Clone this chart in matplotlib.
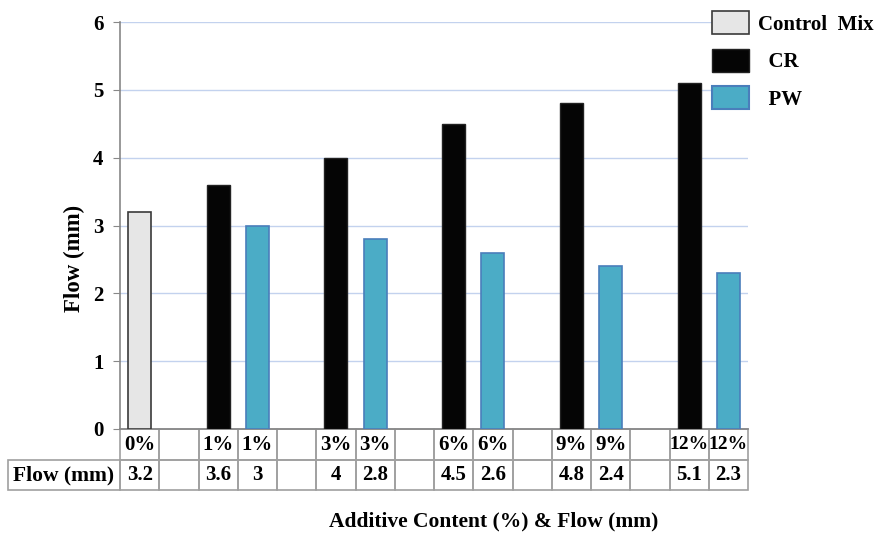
import matplotlib
matplotlib.use("Agg")
import matplotlib.pyplot as plt
import matplotlib.transforms as mtransforms
from matplotlib.patches import Patch, Rectangle

plt.rcParams["font.family"] = ["Liberation Serif", "DejaVu Serif"]
plt.rcParams["font.weight"] = "bold"

# 16 slots along the x axis (blank slots separate the groups)
categories = ["0%", "", "1%", "1%", "", "3%", "3%", "", "6%", "6%", "", "9%", "9%", "", "12%", "12%"]
flow_text = ["3.2", "", "3.6", "3", "", "4", "2.8", "", "4.5", "2.6", "", "4.8", "2.4", "", "5.1", "2.3"]

control_idx = [0]
control_vals = [3.2]
cr_idx = [2, 5, 8, 11, 14]
cr_vals = [3.6, 4.0, 4.5, 4.8, 5.1]
pw_idx = [3, 6, 9, 12, 15]
pw_vals = [3.0, 2.8, 2.6, 2.4, 2.3]

W, H = 881, 534
fig = plt.figure(figsize=(W / 100, H / 100), dpi=100)
ax_h = 407
ax = fig.add_axes([120 / W, 1 - 429 / H, 628 / W, ax_h / H])

bw = 0.58
ax.bar(control_idx, control_vals, width=bw, color="#e6e6e6", edgecolor="#3a3a3a", linewidth=1.2, zorder=3)
ax.bar(cr_idx, cr_vals, width=bw, color="#050505", edgecolor="#222222", linewidth=1.0, zorder=3)
ax.bar(pw_idx, pw_vals, width=bw, color="#4bacc6", edgecolor="#4a7ebb", linewidth=1.2, zorder=3)

n = len(categories)
ax.set_xlim(-0.5, n - 0.5)
ax.set_ylim(0, 6)
ax.set_yticks(range(7))
ax.set_xticks([])
ax.yaxis.grid(True, color="#c3d2ee", linewidth=1.0, zorder=0)
ax.tick_params(axis="y", direction="out", length=5, color="#888888", labelsize=15, pad=7)
for lbl in ax.get_yticklabels():
    lbl.set_fontweight("bold")
for s in ["top", "right"]:
    ax.spines[s].set_visible(False)
for s in ["left", "bottom"]:
    ax.spines[s].set_color("#888888")
    ax.spines[s].set_linewidth(1.2)

ax.set_ylabel("Flow (mm)", fontsize=16.5, fontweight="bold")
ax.yaxis.set_label_coords(-0.056, 0.42)
fig.text(494 / W, 1 - 521 / H, "Additive Content (%) & Flow (mm)", ha="center", va="center",
         fontsize=15.5, fontweight="bold")

# data table under the axis: x in data units, y in axes units
trans = mtransforms.blended_transform_factory(ax.transData, ax.transAxes)
row1 = 31 / ax_h
row2 = 30 / ax_h
grid_c = "#a0a0a0"
label_left = -0.5 - 112 / (628 / n)
tfs = 15
for j in range(n):
    for y0, hgt, txt in [(-row1, row1, categories[j]), (-row1 - row2, row2, flow_text[j])]:
        ax.add_patch(Rectangle((j - 0.5, y0), 1, hgt, transform=trans, fill=False,
                               edgecolor=grid_c, linewidth=1.2, clip_on=False))
        ax.text(j, y0 + hgt / 2, txt, transform=trans, ha="center", va="center",
                fontsize=tfs if len(txt) < 3 or "%" not in txt else tfs - 1,
                fontweight="bold", clip_on=False)
ax.add_patch(Rectangle((label_left, -row1 - row2), -0.5 - label_left, row2, transform=trans,
                       fill=False, edgecolor=grid_c, linewidth=1.2, clip_on=False))
ax.text((label_left - 0.5) / 2, -row1 - row2 / 2, "Flow (mm)", transform=trans, ha="center",
        va="center", fontsize=tfs + 0.5, fontweight="bold", clip_on=False)

handles = [
    Patch(facecolor="#e6e6e6", edgecolor="#3a3a3a", linewidth=1.2, label="Control  Mix"),
    Patch(facecolor="#050505", edgecolor="#222222", label="  CR"),
    Patch(facecolor="#4bacc6", edgecolor="#4a7ebb", linewidth=1.5, label="  PW"),
]
fig.legend(handles=handles, loc="upper left", bbox_to_anchor=(704 / W, 1 - 3 / H), frameon=False,
           prop={"size": 15, "weight": "bold"}, handlelength=1.75, handleheight=1.3,
           labelspacing=0.68, handletextpad=0.45, borderaxespad=0)

fig.savefig("out.png", dpi=100)
